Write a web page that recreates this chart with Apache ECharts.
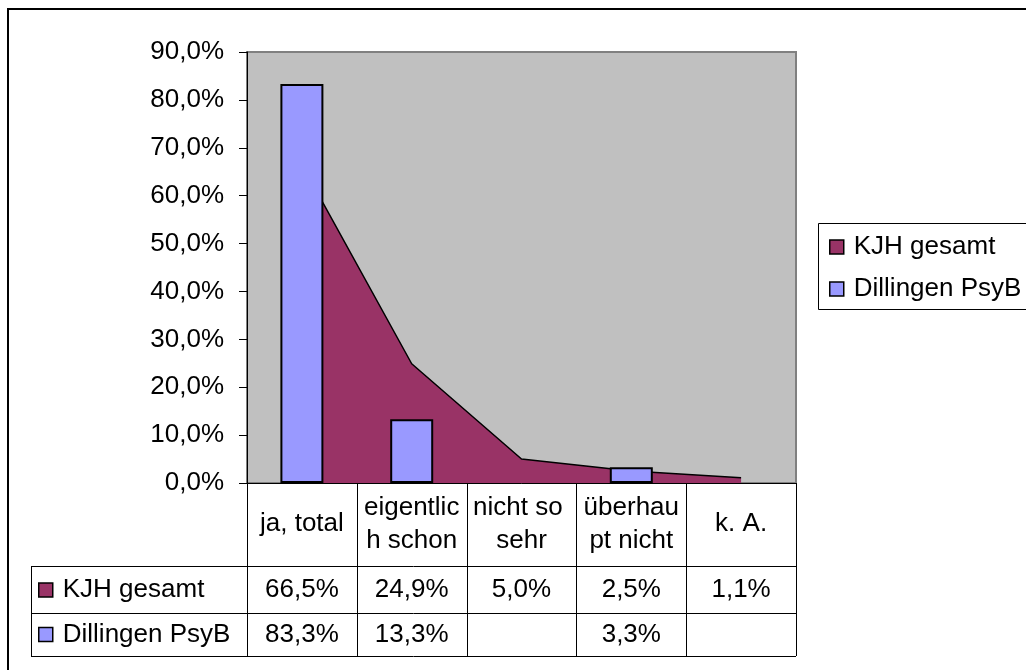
<!DOCTYPE html>
<html>
<head>
<meta charset="utf-8">
<script src="https://cdn.jsdelivr.net/npm/echarts@6/dist/echarts.min.js"></script>
<style>
  html, body { margin: 0; padding: 0; background: #fff; }
  #chart { width: 1026px; height: 670px; }
</style>
</head>
<body>
<div id="chart"></div>
<script>
  // Daten
  var categories = ['ja, total', 'eigentlich schon', 'nicht so sehr', 'überhaupt nicht', 'k. A.'];
  var kjhGesamt = [66.5, 24.9, 5.0, 2.5, 1.1];
  var dillingen = [83.3, 13.3, null, 3.3, null];
  var seriesNames = ['KJH gesamt', 'Dillingen PsyB'];
  var yMax = 90;
  var yStep = 10;

  var FONT = '"Liberation Sans", Arial, sans-serif';
  var kjhColor = '#993366';
  var dilColor = '#9999FF';

  function pct(v) {
    return v == null ? '' : v.toFixed(1).replace('.', ',') + '%';
  }

  var legendItems = [
    { name: seriesNames[0], itemStyle: { color: kjhColor, borderColor: '#000', borderWidth: 1.5 } },
    { name: seriesNames[1], itemStyle: { color: dilColor, borderColor: '#000', borderWidth: 1.5 } }
  ];
  var legendText = { fontSize: 26, fontFamily: FONT, color: '#000', lineHeight: 28, padding: [0, 0, 0, 5] };

  var chart = echarts.init(document.getElementById('chart'));
  var option = {
    animation: false,
    textStyle: { fontFamily: FONT },
    grid: {
      left: 247, top: 52, width: 549, height: 431,
      show: true, backgroundColor: '#C0C0C0', borderColor: '#808080', borderWidth: 2
    },
    legend: [{
      data: legendItems,
      orient: 'vertical',
      left: 818, top: 223,
      icon: 'rect', itemWidth: 14, itemHeight: 14, itemGap: 14,
      padding: [10, 0, 8, 11],
      selectedMode: false,
      textStyle: legendText
    }, {
      // Legende in der Datentabelle
      data: legendItems,
      orient: 'vertical',
      left: 38, top: 576,
      icon: 'rect', itemWidth: 14, itemHeight: 14, itemGap: 16.5,
      padding: 0,
      selectedMode: false,
      textStyle: legendText
    }],
    xAxis: {
      type: 'category',
      data: categories,
      axisLine: { lineStyle: { color: '#000', width: 1 } },
      axisTick: { show: false },
      axisLabel: {
        interval: 0, margin: 41, verticalAlign: 'middle',
        fontSize: 26, lineHeight: 33, color: '#000', fontFamily: FONT,
        width: 108, overflow: 'breakAll'
      }
    },
    yAxis: {
      type: 'value',
      min: 0, max: yMax, interval: yStep,
      axisLine: { show: true, lineStyle: { color: '#000', width: 1 } },
      axisTick: { show: true, length: 8, lineStyle: { color: '#000' } },
      splitLine: { show: false },
      axisLabel: {
        margin: 23, fontSize: 26, color: '#000', fontFamily: FONT,
        formatter: function (v) { return pct(v); }
      }
    },
    series: [{
      name: seriesNames[0],
      type: 'line',
      z: 2,
      data: kjhGesamt,
      symbol: 'none',
      itemStyle: { color: kjhColor },
      lineStyle: { color: '#000', width: 1.5 },
      areaStyle: { color: kjhColor, opacity: 1 }
    }, {
      name: seriesNames[1],
      type: 'bar',
      z: 4,
      data: dillingen,
      barWidth: 43,
      itemStyle: { color: dilColor, borderColor: '#000', borderWidth: 2 }
    }]
  };
  chart.setOption(option);

  // Datentabelle unter der Achse
  var gBottom = 483, gRight = 796, tableLeft = 31;
  var rowLines = [gBottom + 83, gBottom + 130, gBottom + 173];
  var centers = categories.map(function (c, i) { return chart.convertToPixel({ xAxisIndex: 0 }, i); });
  var step = centers[1] - centers[0];
  var bounds = centers.map(function (c) { return c - step / 2; });
  bounds.push(centers[centers.length - 1] + step / 2);

  var lineStyle = { stroke: '#000', lineWidth: 1 };
  var els = [];
  function addLine(x1, y1, x2, y2) {
    els.push({ type: 'line', shape: { x1: x1, y1: y1, x2: x2, y2: y2 }, style: lineStyle, silent: true });
  }
  rowLines.forEach(function (y) { addLine(tableLeft, y + 0.5, gRight, y + 0.5); });
  bounds.forEach(function (x) { addLine(Math.round(x) + 0.5, gBottom, Math.round(x) + 0.5, rowLines[2]); });
  addLine(tableLeft + 0.5, rowLines[0], tableLeft + 0.5, rowLines[2]);

  var rows = [kjhGesamt, dillingen];
  rows.forEach(function (vals, r) {
    var yc = (rowLines[r] + rowLines[r + 1]) / 2;
    vals.forEach(function (v, i) {
      els.push({
        type: 'text', x: centers[i], y: yc, silent: true,
        style: { text: pct(v), font: '26px ' + FONT, fill: '#000', align: 'center', verticalAlign: 'middle' }
      });
    });
  });

  // Rahmen der Legende (rechts abgeschnitten) und des Diagrammbereichs
  els.push({ type: 'rect', shape: { x: 818.5, y: 223.5, width: 300, height: 86 }, style: { fill: 'none', stroke: '#000', lineWidth: 1 }, silent: true });
  els.push({ type: 'rect', shape: { x: 8, y: 9, width: 1100, height: 800 }, style: { fill: 'none', stroke: '#000', lineWidth: 2 }, silent: true });

  chart.setOption({ graphic: els });
</script>
</body>
</html>
